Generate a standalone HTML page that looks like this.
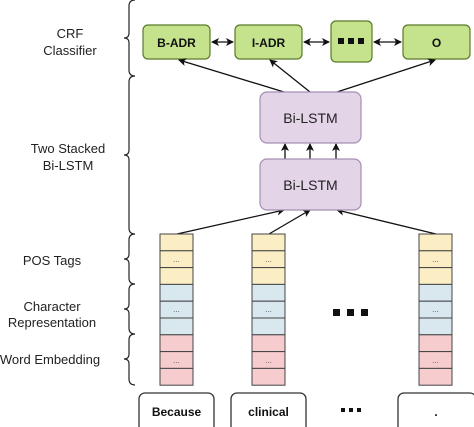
<!DOCTYPE html>
<html><head><meta charset="utf-8"><style>
html,body{margin:0;padding:0;background:#fff;}
svg{display:block;}
text{font-family:"Liberation Sans",Arial,sans-serif;}
</style></head><body>
<svg width="474" height="427" viewBox="0 0 474 427" xmlns="http://www.w3.org/2000/svg">
<defs>
<marker id="a" markerWidth="8" markerHeight="8" refX="7" refY="4" orient="auto" markerUnits="userSpaceOnUse">
<path d="M0,0 L8,4 L0,8 L2,4 Z" fill="#111"/>
</marker>
<marker id="b" markerWidth="8" markerHeight="8" refX="1" refY="4" orient="auto" markerUnits="userSpaceOnUse">
<path d="M8,0 L0,4 L8,8 L6,4 Z" fill="#111"/>
</marker>
</defs>

<!-- braces -->
<g fill="none" stroke="#222" stroke-width="1.2">
<path d="M135,0 Q129,0 129,6 L129,33 Q129,38 124,38 Q129,38 129,43 L129,70 Q129,76 135,76"/>
<path d="M135,76 Q129,76 129,82 L129,150 Q129,155 124,155 Q129,155 129,160 L129,228 Q129,234 135,234"/>
<path d="M135,234 Q129,234 129,240 L129,254 Q129,259 124,259 Q129,259 129,264 L129,278 Q129,284 135,284"/>
<path d="M135,284 Q129,284 129,290 L129,304 Q129,309 124,309 Q129,309 129,314 L129,328 Q129,334 135,334"/>
<path d="M135,334 Q129,334 129,340 L129,354 Q129,359 124,359 Q129,359 129,364 L129,379 Q129,385 135,385"/>
</g>

<g font-size="13" fill="#222" text-anchor="middle">
<text x="70" y="38">CRF</text>
<text x="70" y="55">Classifier</text>
<text x="68" y="153">Two Stacked</text>
<text x="68" y="170">Bi-LSTM</text>
<text x="52" y="265">POS Tags</text>
<text x="52" y="311">Character</text>
<text x="52" y="327">Representation</text>
<text x="50" y="364">Word Embedding</text>
</g>

<!-- green boxes -->
<g fill="#c5e38c" stroke="#5a7a2a" stroke-width="1.2">
<rect x="143" y="25" width="67" height="34" rx="5"/>
<rect x="235" y="25" width="67" height="34" rx="5"/>
<rect x="331" y="21" width="41" height="41" rx="5"/>
<rect x="403" y="25" width="67" height="34" rx="5"/>
</g>
<g font-size="12" font-weight="bold" fill="#111" text-anchor="middle">
<text x="176.5" y="47">B-ADR</text>
<text x="268.5" y="47">I-ADR</text>
<text x="436.5" y="47">O</text>
</g>
<g fill="#111">
<rect x="338" y="38" width="6" height="6"/><rect x="348" y="38" width="6" height="6"/><rect x="358" y="38" width="6" height="6"/>
</g>
<g stroke="#111" stroke-width="1.3" fill="none">
<line x1="212" y1="42" x2="233" y2="42" marker-start="url(#b)" marker-end="url(#a)"/>
<line x1="304" y1="42" x2="329" y2="42" marker-start="url(#b)" marker-end="url(#a)"/>
<line x1="374" y1="42" x2="401" y2="42" marker-start="url(#b)" marker-end="url(#a)"/>
<!-- lstm to green -->
<line x1="284" y1="92" x2="179" y2="60" marker-end="url(#a)"/>
<line x1="310" y1="92" x2="270" y2="60" marker-end="url(#a)"/>
<line x1="337" y1="92" x2="435" y2="60" marker-end="url(#a)"/>
<!-- between lstm -->
<line x1="285" y1="159" x2="285" y2="144" marker-end="url(#a)"/>
<line x1="310" y1="159" x2="310" y2="144" marker-end="url(#a)"/>
<line x1="336" y1="159" x2="336" y2="144" marker-end="url(#a)"/>
<!-- stacks to lstm -->
<line x1="177" y1="234" x2="284" y2="210" marker-end="url(#a)"/>
<line x1="269" y1="234" x2="310" y2="210" marker-end="url(#a)"/>
<line x1="436" y1="234" x2="337" y2="210" marker-end="url(#a)"/>
</g>

<!-- LSTM boxes -->
<g fill="#e3d4e8" stroke="#a58fb3" stroke-width="1.2">
<rect x="260" y="92" width="101" height="51" rx="7"/>
<rect x="260" y="159" width="101" height="51" rx="7"/>
</g>
<g font-size="14" fill="#222" text-anchor="middle">
<text x="310.5" y="123">Bi-LSTM</text>
<text x="310.5" y="190">Bi-LSTM</text>
</g>

<!-- stacks -->
<g id="s" stroke="#444" stroke-width="1">
<rect x="160" y="234" width="33" height="16.8" fill="#fbeec4"/>
<rect x="160" y="250.8" width="33" height="16.8" fill="#fbeec4"/>
<rect x="160" y="267.6" width="33" height="16.8" fill="#fbeec4"/>
<rect x="160" y="284.4" width="33" height="16.8" fill="#d9e7ef"/>
<rect x="160" y="301.2" width="33" height="16.8" fill="#d9e7ef"/>
<rect x="160" y="318" width="33" height="16.8" fill="#d9e7ef"/>
<rect x="160" y="334.8" width="33" height="16.8" fill="#f6cccf"/>
<rect x="160" y="351.6" width="33" height="16.8" fill="#f6cccf"/>
<rect x="160" y="368.4" width="33" height="16.8" fill="#f6cccf"/>
</g>
<use href="#s" x="92"/>
<use href="#s" x="259"/>
<g font-size="8" fill="#555" text-anchor="middle">
<text x="176.5" y="262">...</text><text x="176.5" y="312">...</text><text x="176.5" y="363">...</text>
<text x="268.5" y="262">...</text><text x="268.5" y="312">...</text><text x="268.5" y="363">...</text>
<text x="435.5" y="262">...</text><text x="435.5" y="312">...</text><text x="435.5" y="363">...</text>
</g>
<g fill="#111">
<rect x="333" y="309" width="7" height="7"/><rect x="347" y="309" width="7" height="7"/><rect x="361" y="309" width="7" height="7"/>
<rect x="341" y="408" width="4" height="4"/><rect x="349" y="408" width="4" height="4"/><rect x="357" y="408" width="4" height="4"/>
</g>

<!-- word boxes -->
<g fill="#fff" stroke="#333" stroke-width="1.3">
<rect x="139" y="393" width="75" height="42" rx="6"/>
<rect x="231" y="393" width="75" height="42" rx="6"/>
<rect x="398" y="393" width="78" height="42" rx="6"/>
</g>
<g font-size="12" font-weight="bold" fill="#111" text-anchor="middle">
<text x="176.5" y="416">Because</text>
<text x="268.5" y="416">clinical</text>
<text x="436" y="416">.</text>
</g>
</svg>
</body></html>
